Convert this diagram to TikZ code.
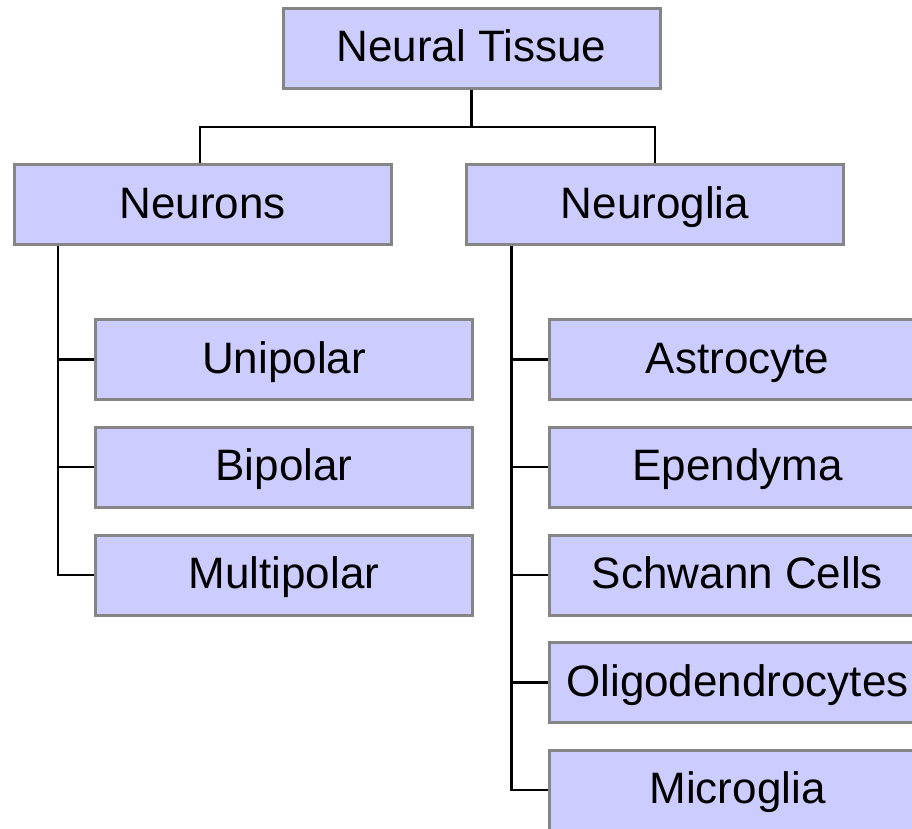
\documentclass[tikz,border=0pt]{standalone}
\usepackage{fontspec}
\setmainfont{Liberation Sans}
\definecolor{boxfill}{HTML}{CCCCFF}
\definecolor{boxline}{HTML}{858585}
\begin{document}
\begin{tikzpicture}[x=1pt,y=-1pt,
  cell/.style={draw=boxline, line width=3pt, fill=boxfill, minimum width=377pt, minimum height=80pt,
    inner sep=0pt, text height=32pt, text depth=5pt, font=\fontsize{44pt}{48pt}\selectfont, text=black, anchor=center},
  link/.style={draw=black, line width=2.6pt}]
\clip (0,0) rectangle (912,829);
\fill[white] (0,0) rectangle (912,829);
\node[cell] (nt) at (471.5,48.5) {Neural Tissue};
\node[cell] (neurons) at (202.5,204.5) {Neurons};
\node[cell] (glia) at (655,204.5) {Neuroglia};
\node[cell] (uni) at (284,359.5) {Unipolar};
\node[cell] (bi) at (284,467) {Bipolar};
\node[cell] (multi) at (284,575) {Multipolar};
\node[cell] (astro) at (737.5,359.5) {Astrocyte};
\node[cell] (epen) at (737.5,467) {Ependyma};
\node[cell] (schw) at (737.5,575) {Schwann Cells};
\node[cell] (oligo) at (737.5,682.5) {Oligodendrocytes};
\node[cell] (micro) at (737.5,790) {Microglia};
% top level
\coordinate (j) at ([yshift=-37pt]nt.south);
\draw[link] (nt.south) -- (j);
\draw[link] ([xshift=-2.5pt]neurons.north) |- (j) -| (glia.north);
% neurons branch
\coordinate (la) at ([xshift=-36pt]multi.west);
\draw[link] (la |- neurons.south) -- (la) -- (multi.west);
\draw[link] (uni.west -| la) -- (uni.west);
\draw[link] (bi.west -| la) -- (bi.west);
% neuroglia branch
\coordinate (ra) at ([xshift=-36pt]micro.west);
\draw[link] (ra |- glia.south) -- (ra) -- (micro.west);
\draw[link] (astro.west -| ra) -- (astro.west);
\draw[link] (epen.west -| ra) -- (epen.west);
\draw[link] (schw.west -| ra) -- (schw.west);
\draw[link] (oligo.west -| ra) -- (oligo.west);
\end{tikzpicture}
\end{document}
